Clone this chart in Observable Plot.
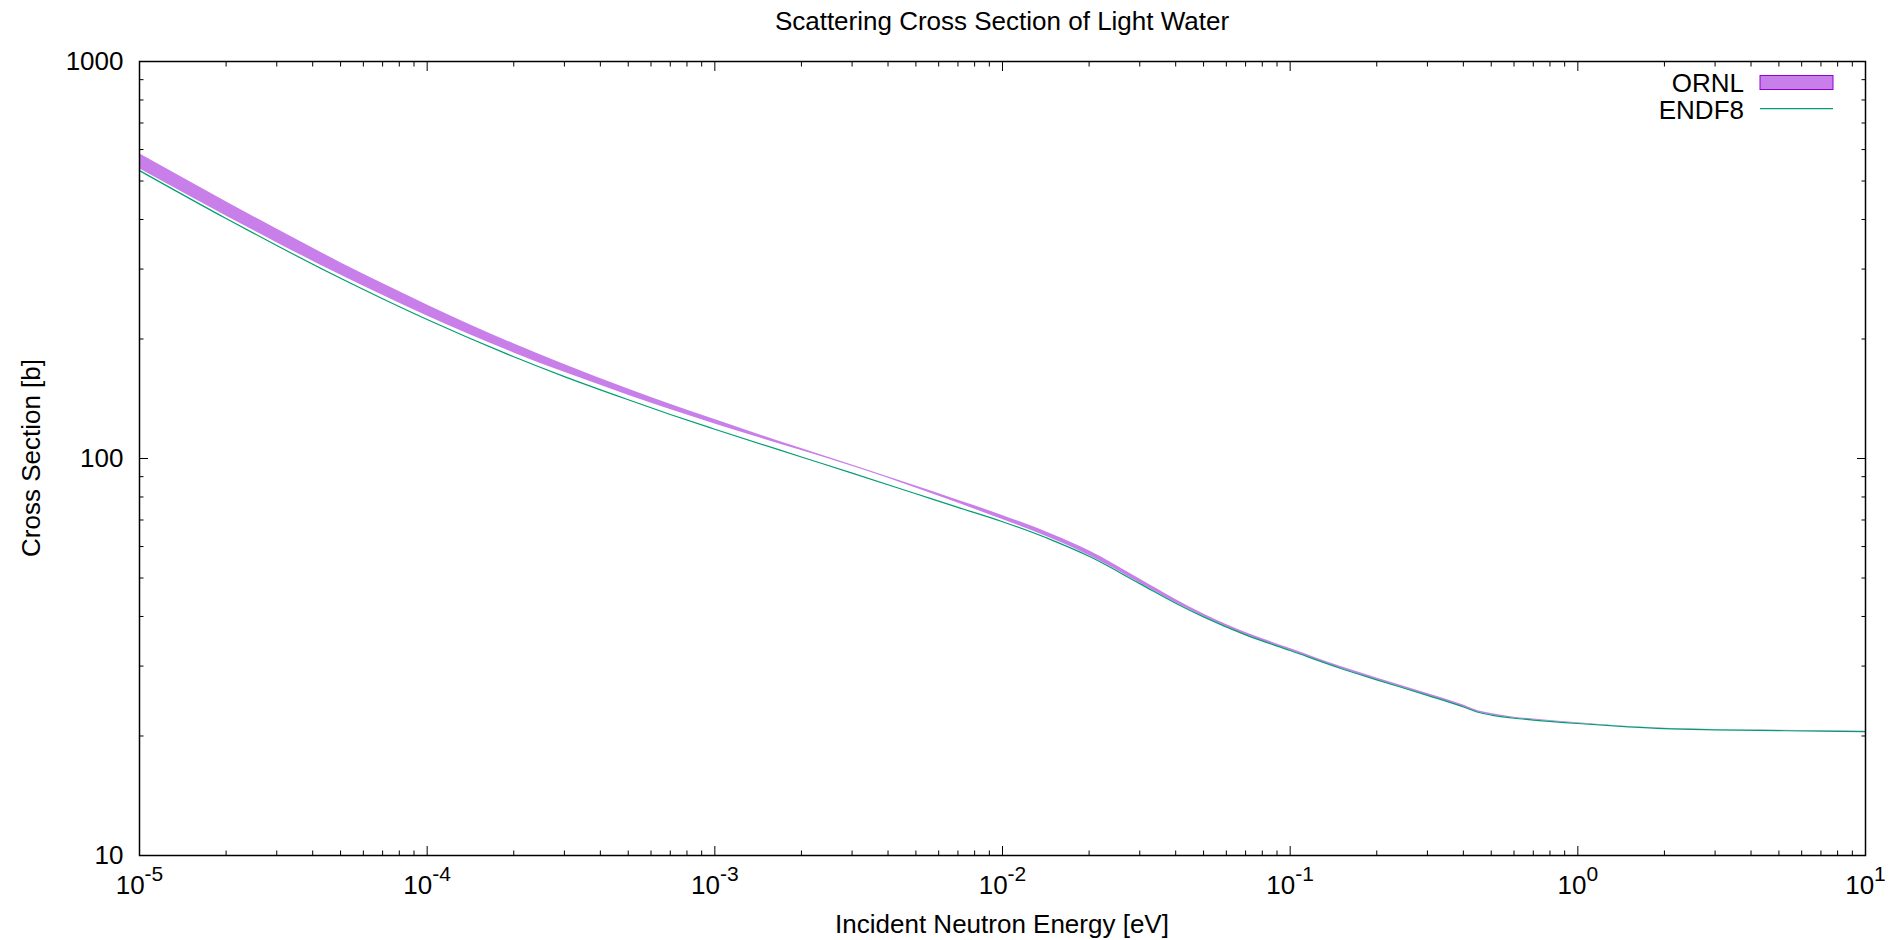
<!DOCTYPE html>
<html>
<head>
<meta charset="utf-8">
<script src="https://cdn.jsdelivr.net/npm/d3@7"></script>
<script src="https://cdn.jsdelivr.net/npm/@observablehq/plot@0.6"></script>
<style>
  html, body { margin: 0; padding: 0; background: #fff; }
  #chart svg { display: block; }
</style>
</head>
<body>
<div id="chart"></div>
<script>
// ---- data ----
const energy = [1e-5, 2e-5, 3e-5, 5e-5, 7e-5, 1e-4, 2e-4, 3e-4, 5e-4, 7e-4,
                1e-3, 2e-3, 3e-3, 5e-3, 7e-3, 1e-2, 1.5e-2, 2e-2, 3e-2, 4e-2,
                5e-2, 7e-2, 0.1, 0.15, 0.2, 0.3, 0.4, 0.45, 0.5, 0.6,
                0.7, 1, 1.5, 2, 3, 5, 7, 10];
const endf8 = [531, 402.2, 343.9, 284.4, 252.6, 223.9, 180.4, 160.8, 140.6, 129.1,
               118.5, 100.9, 91.9, 81.5, 75.3, 69.3, 62.1, 56.7, 48.4, 43.2,
               39.9, 35.95, 32.83, 29.59, 27.70, 25.31, 23.67, 22.95, 22.58, 22.17,
               21.94, 21.50, 21.09, 20.87, 20.73, 20.63, 20.57, 20.52];
const ornlLow = [536.8, 408.2, 349.7, 289.8, 257.7, 228.6, 184.5, 164.8, 144.4, 132.8,
                 122.2, 104.7, 95.6, 84.3, 77.2, 70.2, 62.6, 57.0, 48.6, 43.3,
                 40.0, 35.95, 32.83, 29.59, 27.70, 25.31, 23.67, 22.95, 22.58, 22.17,
                 21.94, 21.50, 21.09, 20.87, 20.73, 20.63, 20.57, 20.52];
const ornlHigh = [585.7, 443.6, 378.3, 311.4, 275.8, 243.6, 194.5, 172.4, 149.7, 137.0,
                  125.3, 105.9, 96.3, 85.2, 78.5, 71.9, 64.3, 58.6, 49.7, 44.15,
                  40.6, 36.45, 33.22, 29.92, 28.0, 25.59, 23.93, 23.16, 22.78, 22.3,
                  22.07, 21.59, 21.13, 20.91, 20.77, 20.67, 20.61, 20.56];

const xMajor = [1e-5, 1e-4, 1e-3, 1e-2, 1e-1, 1, 10];
const xExponents = ["-5", "-4", "-3", "-2", "-1", "0", "1"];
const yMajor = [10, 100, 1000];
const yLabels = ["10", "100", "1000"];
const minorMultipliers = [2, 3, 4, 5, 6, 7, 8, 9];

const titleText = "Scattering Cross Section of Light Water";
const xLabelText = "Incident Neutron Energy [eV]";
const yLabelText = "Cross Section [b]";
const seriesNames = ["ORNL", "ENDF8"];
const ornlColor = "#9400d3";
const endfColor = "#009e73";

// ---- build ----
const rows = energy.map((e, i) => ({e, endf: endf8[i], lo: ornlLow[i], hi: ornlHigh[i]}));
const xMinor = xMajor.slice(0, -1).flatMap(d => minorMultipliers.map(m => d * m));
const yMinor = yMajor.slice(0, -1).flatMap(d => minorMultipliers.map(m => d * m));

const W = 1893, H = 940;
const font = "'Liberation Sans', Arial, Helvetica, sans-serif";

const tickOpts = (size) => ({tickSize: size, fill: "none", label: null, stroke: "black", strokeWidth: 1});

const chart = Plot.plot({
  width: W,
  height: H,
  marginLeft: 139,
  marginRight: 28,
  marginTop: 61,
  marginBottom: 85,
  style: {fontFamily: font, fontSize: "26px", color: "black", background: "white"},
  x: {type: "log", domain: [1e-5, 10]},
  y: {type: "log", domain: [10, 1000]},
  marks: [
    Plot.areaY(rows, {x: "e", y1: "lo", y2: "hi", fill: ornlColor, fillOpacity: 0.5, curve: "monotone-x"}),
    Plot.line(rows, {x: "e", y: "endf", stroke: endfColor, strokeWidth: 1.2, curve: "monotone-x"}),
    // inward ticks, mirrored
    Plot.axisX(xMajor, {anchor: "bottom", ...tickOpts(-9)}),
    Plot.axisX(xMajor, {anchor: "top", ...tickOpts(-9)}),
    Plot.axisX(xMinor, {anchor: "bottom", ...tickOpts(-4.5)}),
    Plot.axisX(xMinor, {anchor: "top", ...tickOpts(-4.5)}),
    Plot.axisY(yMajor, {anchor: "left", ...tickOpts(-9)}),
    Plot.axisY(yMajor, {anchor: "right", ...tickOpts(-9)}),
    Plot.axisY(yMinor, {anchor: "left", ...tickOpts(-4.5)}),
    Plot.axisY(yMinor, {anchor: "right", ...tickOpts(-4.5)}),
    // tick labels
    Plot.axisX(xMajor, {anchor: "bottom", tickSize: 0, tickPadding: 20, stroke: "none", label: null,
      tickFormat: d => "10^" + xExponents[xMajor.indexOf(d)]}),
    Plot.axisY(yMajor, {anchor: "left", tickSize: 0, tickPadding: 16, stroke: "none", label: null,
      tickFormat: d => yLabels[yMajor.indexOf(d)]}),
    Plot.frame({stroke: "black", strokeWidth: 1.5})
  ]
});

document.getElementById("chart").appendChild(chart);
const svg = d3.select(chart);

// superscripts on x tick labels
svg.selectAll('g[aria-label="x-axis tick label"] text').each(function() {
  const t = d3.select(this);
  const s = t.text();
  const [base, exp] = s.split("^");
  t.text(null);
  t.append("tspan").text(base);
  t.append("tspan").attr("font-size", 21).attr("dy", -13).text(exp);
});

const txt = (x, y, s, anchor) => svg.append("text")
  .attr("x", x).attr("y", y).attr("text-anchor", anchor)
  .attr("font-family", font).attr("font-size", 26).attr("fill", "black").text(s);

// title and axis labels
txt(1002, 30, titleText, "middle");
txt(1002, 933, xLabelText, "middle");
svg.append("text")
  .attr("transform", "translate(40,458) rotate(-90)")
  .attr("text-anchor", "middle")
  .attr("font-family", font).attr("font-size", 26).attr("fill", "black")
  .text(yLabelText);

// legend
txt(1744, 91.5, seriesNames[0], "end");
svg.append("rect").attr("x", 1760).attr("y", 75.5).attr("width", 73).attr("height", 14)
  .attr("fill", ornlColor).attr("fill-opacity", 0.5).attr("stroke", ornlColor).attr("stroke-width", 1);
txt(1744, 118.5, seriesNames[1], "end");
svg.append("line").attr("x1", 1760).attr("x2", 1833).attr("y1", 108.7).attr("y2", 108.7)
  .attr("stroke", endfColor).attr("stroke-width", 1.2);
</script>
</body>
</html>
